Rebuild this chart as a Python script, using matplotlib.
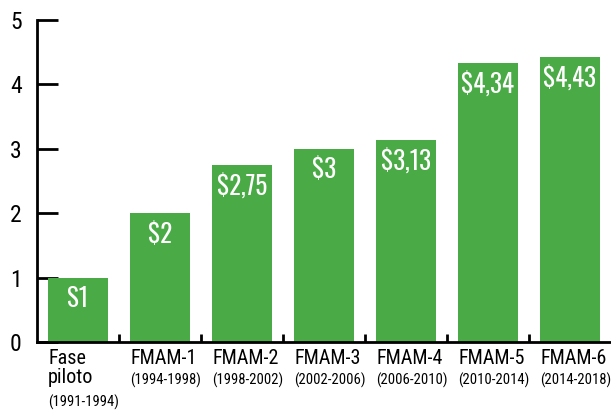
import matplotlib
matplotlib.use("Agg")
import matplotlib.pyplot as plt
import matplotlib.transforms as mtransforms

# data
fases = ["Fase\npiloto", "FMAM-1", "FMAM-2", "FMAM-3", "FMAM-4", "FMAM-5", "FMAM-6"]
periodos = ["(1991-1994)", "(1994-1998)", "(1998-2002)", "(2002-2006)",
            "(2006-2010)", "(2010-2014)", "(2014-2018)"]
valores = [1, 2, 2.75, 3, 3.13, 4.34, 4.43]
etiquetas = ["S1", "$2", "$2,75", "$3", "$3,13", "$4,34", "$4,43"]

plt.rcParams['font.family'] = ['Roboto Condensed', 'DejaVu Sans']

verde = "#4aaa46"
bw = 0.73

fig = plt.figure(figsize=(6.11, 4.11), dpi=100)
ax = fig.add_axes([37 / 611, 69 / 411, 1 - 37 / 611, 322 / 411])

x = list(range(len(valores)))
bars = ax.bar(x, valores, width=bw, color=verde, zorder=2)

for b, lab in zip(bars, etiquetas):
    ax.annotate(lab.replace("$", r"\$"), (b.get_x() + b.get_width() / 2, b.get_height()),
                xytext=(0, -6), textcoords="offset points", ha="center", va="top",
                color="white", fontsize=18, family=['Oswald', 'DejaVu Sans'], zorder=3)

ax.set_xlim(-0.5, len(valores) - 0.5)
ax.set_ylim(0, 5)
ax.set_yticks(range(6))
ax.tick_params(axis="y", direction="in", length=15, width=2, labelsize=17, pad=11)
ax.set_xticks([i + 0.5 for i in x[:-1]])
ax.set_xticklabels([])
ax.tick_params(axis="x", direction="in", length=6, width=2)

for s in ["top", "right"]:
    ax.spines[s].set_visible(False)
for s in ["left", "bottom"]:
    ax.spines[s].set_linewidth(2)

trans = mtransforms.blended_transform_factory(ax.transData, ax.transAxes)
for i, (f, p) in enumerate(zip(fases, periodos)):
    left = i - bw / 2
    ax.text(left, -0.022, f, transform=trans, ha="left", va="top",
            fontsize=14.5, linespacing=1.0)
    ny = -0.095 if "\n" not in f else -0.165
    ax.text(left, ny, p, transform=trans, ha="left", va="top", fontsize=10.5)

fig.savefig("out.png", dpi=100)
